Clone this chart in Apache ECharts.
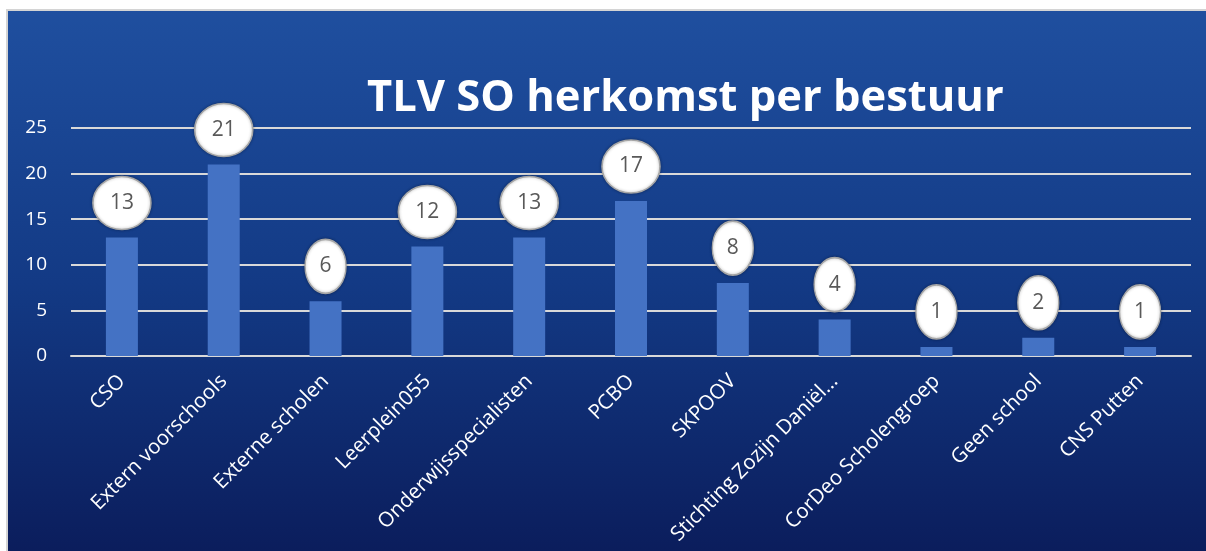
<!DOCTYPE html>
<html>
<head>
<meta charset="utf-8">
<title>TLV SO herkomst per bestuur</title>
<script src="https://cdn.jsdelivr.net/npm/echarts@6/dist/echarts.min.js"></script>
<style>
  html, body { margin: 0; padding: 0; background: #fff; }
  #chart {
    position: absolute;
    left: 6px;
    top: 9px;
    width: 1200px;
    height: 542px;
    border-left: 2px solid #d4d4d4;
    border-top: 2px solid #d4d4d4;
  }
</style>
</head>
<body>
<div id="chart"></div>
<script>
  const categories = ['CSO', 'Extern voorschools', 'Externe scholen', 'Leerplein055', 'Onderwijsspecialisten',
    'PCBO', 'SKPOOV', 'Stichting Zozijn Daniël…', 'CorDeo Scholengroep', 'Geen school', 'CNS Putten']
  const values = [13, 21, 6, 12, 13, 17, 8, 4, 1, 2, 1]
  const yTicks = [0, 5, 10, 15, 20, 25]

  // ellipse path, stretched to symbolSize
  const ellipse = 'path://M0,50 A50,50 0 1,1 100,50 A50,50 0 1,1 0,50 Z'

  const calloutData = values.map(v => {
    const size = v >= 10 ? [58, 53] : [41, 54]
    return {
      value: v,
      symbolSize: size,
      symbolOffset: [0, -(size[1] / 2 + 8)]
    }
  })

  const chart = echarts.init(document.getElementById('chart'))
  const option = {
    backgroundColor: {
      type: 'linear', x: 0, y: 0, x2: 0, y2: 1,
      colorStops: [
        {offset: 0, color: '#1f4f9f'},
        {offset: 0.5, color: '#133a85'},
        {offset: 1, color: '#0b1d5c'}
      ]
    },
    title: {
      text: 'TLV SO herkomst per bestuur',
      left: 354,
      top: 61,
      textStyle: {
        color: '#ffffff',
        fontFamily: 'Open Sans',
        fontWeight: 'bold',
        fontSize: 43.5
      }
    },
    grid: {
      left: 63,
      right: 17,
      top: 117,
      bottom: 197
    },
    xAxis: {
      type: 'category',
      data: categories,
      axisTick: {show: false},
      axisLine: {lineStyle: {color: '#d9d9d9', width: 2}},
      axisLabel: {
        interval: 0,
        rotate: 45,
        margin: 22,
        color: '#ffffff',
        fontFamily: 'Open Sans',
        fontSize: 20.5
      }
    },
    yAxis: {
      type: 'value',
      min: yTicks[0],
      max: yTicks[yTicks.length - 1],
      interval: 5,
      axisLine: {show: false},
      axisTick: {show: false},
      splitLine: {lineStyle: {color: '#d9d9d9', width: 2}},
      axisLabel: {
        margin: 24,
        color: '#ffffff',
        fontFamily: 'Open Sans',
        fontSize: 19
      }
    },
    series: [
      {
        type: 'bar',
        data: values,
        barWidth: 32,
        itemStyle: {color: '#4472c4'},
        z: 2
      },
      {
        type: 'scatter',
        data: calloutData,
        symbol: ellipse,
        itemStyle: {
          color: '#ffffff',
          opacity: 1,
          borderColor: '#a6a6a6',
          borderWidth: 1.5,
          shadowBlur: 3,
          shadowColor: 'rgba(0,0,0,0.3)'
        },
        label: {
          show: true,
          position: 'inside',
          color: '#595959',
          fontFamily: 'Open Sans',
          fontSize: 21
        },
        emphasis: {disabled: true},
        z: 3
      }
    ]
  }
  chart.setOption(option)
</script>
</body>
</html>
